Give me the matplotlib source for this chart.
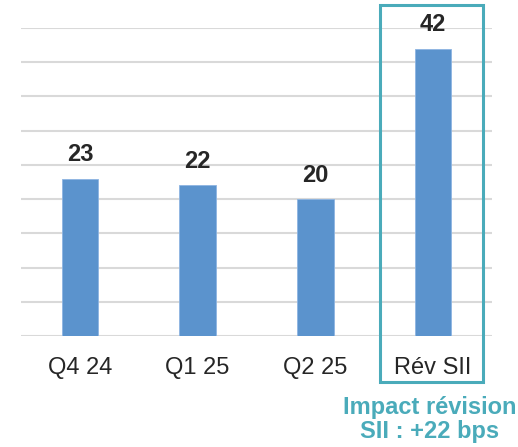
import matplotlib.pyplot as plt
from matplotlib.patches import Rectangle

plt.rcParams['font.family'] = ['Liberation Sans', 'DejaVu Sans']

categories = ['Q4 24', 'Q1 25', 'Q2 25', 'Rév SII']
values = [23, 22, 20, 42]
value_labels = ['23', '22', '20', '42']
note = 'Impact révision\nSII : +22 bps'

bar_color = '#5B93CD'
teal = '#4AABBA'
text_color = '#262626'

fig = plt.figure(figsize=(5.18, 4.47), dpi=100)
ax = fig.add_axes([21 / 518, 1 - 336 / 447, 471 / 518, 308 / 447])

x = list(range(len(categories)))
bars = ax.bar(x, values, width=0.31, color=bar_color, edgecolor='#8DB4E2',
              linewidth=0.6, zorder=3)

for b, lab in zip(bars, value_labels):
    ax.annotate(lab, (b.get_x() + b.get_width() / 2, b.get_height()),
                xytext=(0, 9), textcoords='offset points', ha='center',
                va='bottom', fontsize=17, fontweight='bold', color=text_color)

ax.set_xlim(-0.5, len(categories) - 0.5)
ax.set_ylim(0, 45)
ax.set_yticks(range(0, 46, 5))
ax.yaxis.grid(True, color='#D9D9D9', linewidth=1.5, zorder=0)
ax.set_axisbelow(True)
ax.tick_params(axis='y', left=False, labelleft=False)
ax.tick_params(axis='x', length=0, pad=15, labelsize=17, labelcolor=text_color)
ax.set_xticks(x)
ax.set_xticklabels(categories)
for s in ax.spines.values():
    s.set_visible(False)

# highlight box around the last category
last = len(categories) - 1
box = Rectangle((last - 0.45, -6.7), 0.875, 55.0, fill=False, edgecolor=teal,
                linewidth=2.2, clip_on=False, zorder=4)
ax.add_patch(box)

ax.text(last - 0.03, -8.8, note, ha='center', va='top', fontsize=17,
        fontweight='bold', color=teal, linespacing=1.05, clip_on=False)

fig.savefig('out.png', dpi=100)
